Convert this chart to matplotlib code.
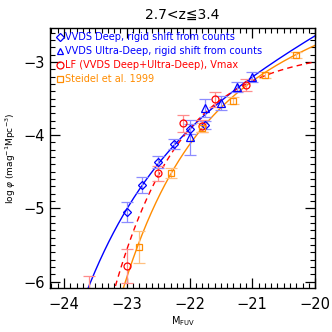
import numpy as np
import matplotlib
matplotlib.use("Agg")
import matplotlib.pyplot as plt
from matplotlib.ticker import MultipleLocator

# VVDS Deep, rigid shift from counts
deep_m = [-23.0, -22.75, -22.5, -22.25, -22.0, -21.75]
deep_phi = [-5.05, -4.68, -4.37, -4.12, -3.92, -3.86]
deep_err = [0.14, 0.11, 0.08, 0.07, 0.07, 0.06]

# VVDS Ultra-Deep, rigid shift from counts
udeep_m = [-22.0, -21.75, -21.5, -21.25, -21.0]
udeep_phi = [-4.03, -3.63, -3.56, -3.34, -3.21]
udeep_err = [0.24, 0.12, 0.09, 0.07, 0.07]

# LF (VVDS Deep+Ultra-Deep), Vmax
vmax_m = [-23.6, -23.0, -22.5, -22.1, -21.8, -21.6, -21.1]
vmax_phi = [-6.2, -5.79, -4.52, -3.84, -3.87, -3.51, -3.31]
vmax_err = [0.28, 0.23, 0.10, 0.11, 0.08, 0.10, 0.08]

# Steidel et al. 1999
st_m = [-22.8, -22.3, -21.8, -21.3, -20.8, -20.3]
st_phi = [-5.53, -4.52, -3.90, -3.53, -3.18, -2.90]
st_err = [0.22, 0.07, 0.06, 0.05, 0.04, 0.04]

# Schechter parameters (M*, alpha, phi*)
sch_deep = (-22.05, -2.16, 3.22e-4)
sch_vmax = (-21.0, -1.0, 1.62e-3)
sch_st = (-21.05, -1.6, 1.5e-3)


def log_schechter(m, mstar, alpha, phistar):
    x = 10 ** (0.4 * (mstar - m))
    return np.log10(0.4 * np.log(10) * phistar * x ** (alpha + 1) * np.exp(-x))


blue = "#0000ff"
red = "#ff0000"
orange = "#ff8c00"

fig = plt.figure(figsize=(3.32, 3.32), dpi=100)
ax = fig.add_axes([0.151, 0.132, 0.798, 0.785])

mm = np.linspace(-24.3, -19.9, 300)
ax.plot(mm, log_schechter(mm, *sch_deep), color=blue, lw=1.0)
ax.plot(mm, log_schechter(mm, *sch_st), color=orange, lw=1.0)
ax.plot(mm, log_schechter(mm, *sch_vmax), color=red, lw=1.0, ls=(0, (4, 3)))

ekw = dict(fmt="none", elinewidth=0.9, capsize=4, capthick=0.9)
ax.errorbar(deep_m, deep_phi, yerr=deep_err, ecolor="#8c8cff", **ekw)
ax.errorbar(udeep_m, udeep_phi, yerr=udeep_err, ecolor="#8c8cff", **ekw)
ax.errorbar(vmax_m, vmax_phi, yerr=vmax_err, ecolor="#ff8c8c", **ekw)
ax.errorbar(st_m, st_phi, yerr=st_err, ecolor="#ffc080", **ekw)

mkw = dict(ls="none", mfc="none", mew=0.9)
ax.plot(deep_m, deep_phi, marker="D", ms=4.0, mec=blue, **mkw)
ax.plot(udeep_m, udeep_phi, marker="^", ms=5.5, mec=blue, **mkw)
ax.plot(vmax_m, vmax_phi, marker="o", ms=5.0, mec=red, **mkw)
ax.plot(st_m, st_phi, marker="s", ms=5.0, mec=orange, **mkw)

ax.set_xlim(-24.22, -20.0)
ax.set_ylim(-6.09, -2.53)
ax.xaxis.set_major_locator(MultipleLocator(1))
ax.xaxis.set_minor_locator(MultipleLocator(0.1))
ax.yaxis.set_major_locator(MultipleLocator(1))
ax.yaxis.set_minor_locator(MultipleLocator(0.1))
ax.tick_params(which="both", direction="in", top=True, right=True, labelsize=10.5)
ax.tick_params(which="major", length=7, width=0.9)
ax.tick_params(which="minor", length=3.5, width=0.8)
ax.tick_params(axis="x", pad=6)
ax.xaxis.set_major_formatter(plt.FuncFormatter(lambda v, p: "\u2212%d" % abs(v)))
ax.yaxis.set_major_formatter(plt.FuncFormatter(lambda v, p: "\u2212%d" % abs(v)))
for sp in ax.spines.values():
    sp.set_linewidth(1.0)

ax.set_xlabel(r"M$_{\mathregular{FUV}}$", fontsize=7, labelpad=2)
ax.set_ylabel(r"log $\varphi$ (mag$^{-1}$Mpc$^{-3}$)", fontsize=6.5, labelpad=4)
ax.set_title("2.7<z\u22663.4", fontsize=10, pad=6)

# legend drawn as marker + coloured text lines
leg_items = [
    ("D", 3.8, blue, "VVDS Deep, rigid shift from counts"),
    ("^", 5.0, blue, "VVDS Ultra-Deep, rigid shift from counts"),
    ("o", 5.0, red, "LF (VVDS Deep+Ultra-Deep), Vmax"),
    ("s", 5.0, orange, "Steidel et al. 1999"),
]
for i, (mk, ms, col, txt) in enumerate(leg_items):
    yy = 0.965 - i * 0.054
    ax.plot([0.038], [yy], transform=ax.transAxes, marker=mk, ms=ms, mfc="none",
            mec=col, mew=0.9, ls="none", clip_on=False)
    ax.text(0.058, yy, txt, transform=ax.transAxes, color=col, fontsize=7,
            va="center", ha="left")

fig.savefig("out.png", dpi=100)
